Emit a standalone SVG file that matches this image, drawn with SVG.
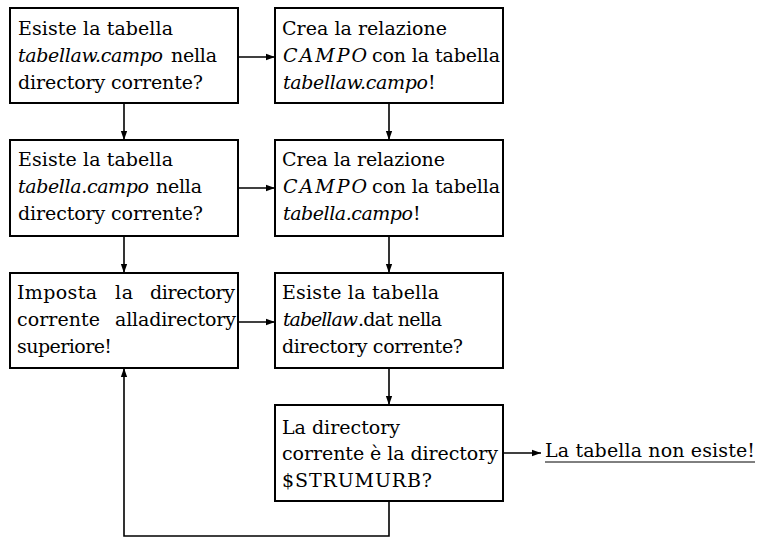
<svg xmlns="http://www.w3.org/2000/svg" width="758" height="539" viewBox="0 0 758 539">
<style>
  .box { fill: #fff; stroke: #000; stroke-width: 2; }
  .t { font-family: "DejaVu Serif", "Liberation Serif", serif; font-size: 19px; fill: #000; }
  .i { font-style: italic; }
  .c { fill: none; stroke: #000; stroke-width: 1.6; }
</style>
<defs>
  <marker id="ah" viewBox="0 0 10 10" refX="10" refY="5" markerWidth="9" markerHeight="9" markerUnits="userSpaceOnUse" orient="auto">
    <path d="M0,1.5 L10,5 L0,8.5 Z" fill="#000"/>
  </marker>
</defs>
<rect width="758" height="539" fill="#fff"/>
<g id="connectors">
  <line class="c" x1="238" y1="57" x2="275" y2="57" marker-end="url(#ah)"/>
  <line class="c" x1="124" y1="103" x2="124" y2="140" marker-end="url(#ah)"/>
  <line class="c" x1="389" y1="103" x2="389" y2="140" marker-end="url(#ah)"/>
  <line class="c" x1="238" y1="188" x2="275" y2="188" marker-end="url(#ah)"/>
  <line class="c" x1="124" y1="236" x2="124" y2="273" marker-end="url(#ah)"/>
  <line class="c" x1="389" y1="236" x2="389" y2="273" marker-end="url(#ah)"/>
  <line class="c" x1="238" y1="322" x2="275" y2="322" marker-end="url(#ah)"/>
  <line class="c" x1="389" y1="368" x2="389" y2="405" marker-end="url(#ah)"/>
  <line class="c" x1="503" y1="453" x2="541" y2="453" marker-end="url(#ah)"/>
  <polyline class="c" points="389,501 389,536 124,536 124,368" marker-end="url(#ah)"/>
</g>
<g id="n1">
  <rect class="box" x="10" y="8" width="228" height="95"/>
  <text class="t" x="18" y="35" textLength="155">Esiste la tabella</text>
  <text class="t i" x="18" y="62" textLength="145">tabellaw.campo</text>
  <text class="t" x="171" y="62" textLength="46">nella</text>
  <text class="t" x="18" y="89" textLength="185">directory corrente?</text>
</g>
<g id="n2">
  <rect class="box" x="275" y="8" width="228" height="95"/>
  <text class="t" x="282" y="35" textLength="165">Crea la relazione</text>
  <text class="t i" x="283" y="62" textLength="84">CAMPO</text>
  <text class="t" x="372" y="62" textLength="128">con la tabella</text>
  <text class="t i" x="283" y="89" textLength="145">tabellaw.campo</text>
  <text class="t" x="428" y="89">!</text>
</g>
<g id="n3">
  <rect class="box" x="10" y="140" width="228" height="96"/>
  <text class="t" x="18" y="166" textLength="155">Esiste la tabella</text>
  <text class="t i" x="18" y="193" textLength="131">tabella.campo</text>
  <text class="t" x="156" y="193" textLength="46">nella</text>
  <text class="t" x="18" y="220" textLength="185">directory corrente?</text>
</g>
<g id="n4">
  <rect class="box" x="275" y="140" width="228" height="96"/>
  <text class="t" x="282" y="166" textLength="163">Crea la relazione</text>
  <text class="t i" x="283" y="193" textLength="84">CAMPO</text>
  <text class="t" x="372" y="193" textLength="128">con la tabella</text>
  <text class="t i" x="283" y="220" textLength="130">tabella.campo</text>
  <text class="t" x="413" y="220">!</text>
</g>
<g id="n5">
  <rect class="box" x="10" y="273" width="228" height="95"/>
  <text class="t" x="17" y="299" textLength="80">Imposta</text>
  <text class="t" x="115" y="299" textLength="18">la</text>
  <text class="t" x="150" y="299" textLength="85">directory</text>
  <text class="t" x="17" y="326" textLength="83">corrente</text>
  <text class="t" x="115" y="326" textLength="121">alladirectory</text>
  <text class="t" x="17" y="353" textLength="95">superiore!</text>
</g>
<g id="n6">
  <rect class="box" x="275" y="273" width="228" height="95"/>
  <text class="t" x="282" y="299" textLength="157">Esiste la tabella</text>
  <text class="t i" x="283" y="326" textLength="75">tabellaw</text>
  <text class="t" x="358" y="326" textLength="84">.dat nella</text>
  <text class="t" x="282" y="353" textLength="181">directory corrente?</text>
</g>
<g id="n7">
  <rect class="box" x="275" y="405" width="228" height="96"/>
  <text class="t" x="282" y="434" textLength="118">La directory</text>
  <text class="t" x="282" y="460" textLength="216">corrente è la directory</text>
  <text class="t" x="282" y="487" textLength="150">$STRUMURB?</text>
</g>
<g id="n8">
  <text class="t" x="545" y="457" textLength="210">La tabella non esiste!</text>
  <line x1="545" y1="462" x2="755" y2="462" stroke="#000" stroke-width="1"/>
</g>
</svg>
